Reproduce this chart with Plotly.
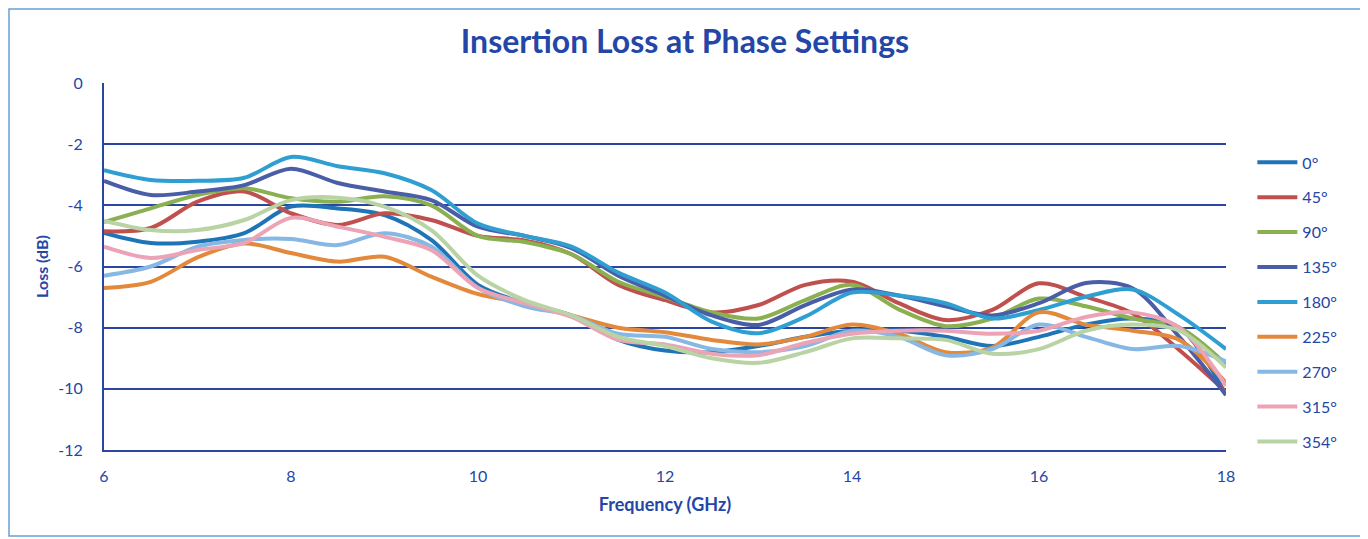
import plotly.graph_objects as go

freq = [6, 6.5, 7, 7.5, 8, 8.5, 9, 9.5, 10, 10.5, 11, 11.5, 12,
        12.5, 13, 13.5, 14, 14.5, 15, 15.5, 16, 16.5, 17, 17.5, 18]

loss_0 = [-4.9, -5.23, -5.19, -4.91, -4.04, -4.1, -4.32, -5.13, -6.6, -7.2, -7.6, -8.4, -8.75,
          -8.8, -8.6, -8.3, -8.1, -8.1, -8.3, -8.6, -8.3, -7.9, -7.7, -8.0, -10.2]
loss_45 = [-4.85, -4.74, -3.88, -3.55, -4.26, -4.64, -4.26, -4.48, -5.0, -5.15, -5.6, -6.6, -7.1,
           -7.5, -7.26, -6.6, -6.5, -7.2, -7.75, -7.42, -6.55, -6.99, -7.53, -8.73, -10.1]
loss_90 = [-4.55, -4.1, -3.66, -3.44, -3.77, -3.88, -3.7, -4.0, -5.0, -5.2, -5.6, -6.5, -7.0,
           -7.5, -7.7, -7.1, -6.6, -7.4, -7.95, -7.7, -7.05, -7.3, -7.7, -8.0, -9.2]
loss_135 = [-3.2, -3.66, -3.55, -3.34, -2.8, -3.27, -3.55, -3.83, -4.7, -5.0, -5.4, -6.3, -6.95,
            -7.6, -7.91, -7.26, -6.75, -6.95, -7.3, -7.6, -7.2, -6.54, -6.71, -8.3, -10.2]
loss_180 = [-2.85, -3.17, -3.2, -3.1, -2.42, -2.72, -2.95, -3.5, -4.6, -5.0, -5.35, -6.2, -6.85,
            -7.8, -8.18, -7.64, -6.85, -6.95, -7.2, -7.7, -7.42, -6.99, -6.75, -7.59, -8.7]
loss_225 = [-6.7, -6.5, -5.7, -5.25, -5.56, -5.84, -5.68, -6.33, -6.9, -7.2, -7.6, -8.0, -8.15,
            -8.4, -8.55, -8.3, -7.9, -8.2, -8.8, -8.65, -7.5, -7.9, -8.1, -8.4, -9.8]
loss_270 = [-6.3, -6.0, -5.35, -5.13, -5.1, -5.3, -4.91, -5.35, -6.7, -7.3, -7.6, -8.2, -8.3,
            -8.7, -8.8, -8.6, -8.1, -8.3, -8.9, -8.7, -7.9, -8.3, -8.7, -8.6, -9.1]
loss_315 = [-5.35, -5.72, -5.46, -5.23, -4.41, -4.7, -5.03, -5.46, -6.7, -7.2, -7.65, -8.4, -8.55,
            -8.85, -8.9, -8.5, -8.2, -8.1, -8.1, -8.2, -8.1, -7.65, -7.5, -8.0, -9.9]
loss_354 = [-4.5, -4.81, -4.81, -4.48, -3.83, -3.75, -4.04, -4.81, -6.3, -7.1, -7.6, -8.3, -8.6,
            -9.0, -9.15, -8.8, -8.35, -8.35, -8.4, -8.85, -8.7, -8.1, -7.9, -8.1, -9.3]

names = ["0°", "45°", "90°", "135°", "180°", "225°", "270°", "315°", "354°"]
series = [loss_0, loss_45, loss_90, loss_135, loss_180, loss_225, loss_270, loss_315, loss_354]
colors = ["#1f74b8", "#c0504d", "#8ab04f", "#4a5ea8", "#2f9fd2",
          "#e3893c", "#86b8e3", "#eba3b5", "#b9d3a4"]

y_ticks = [0, -2, -4, -6, -8, -10, -12]
y_tick_text = ["0", "-2", "-4", "-6", "-8", "-10", "-12"]
x_ticks = [6, 8, 10, 12, 14, 16, 18]

blue_text = "#2446a6"
grid_blue = "#2a46a0"
font_family = "Lato, 'Open Sans', sans-serif"

fig = go.Figure()
for i, (name, ys, col) in enumerate(zip(names, series, colors)):
    fig.add_trace(go.Scatter(
        x=freq, y=ys, name=name, mode="lines",
        line=dict(color=col, width=4, shape="spline", smoothing=0.9),
        legendgroup=f"g{i}",
    ))

L, T, PW, PH = 96, 75, 1122, 367
W, H = 1368, 539

fig.update_layout(
    width=W, height=H,
    paper_bgcolor="white", plot_bgcolor="white",
    margin=dict(l=L, r=W - L - PW, t=T, b=H - T - PH),
    font=dict(family=font_family, color=blue_text),
    title=dict(text="<b>Insertion Loss at Phase Settings</b>",
               x=677 / W, xanchor="center", y=1 - 34 / H, yanchor="middle",
               yref="container", xref="container",
               font=dict(size=32, color=blue_text, family=font_family)),
    legend=dict(x=1.0235, y=0.83, xanchor="left", yanchor="top",
                font=dict(size=16, color=blue_text, family=font_family),
                tracegroupgap=11.1, bgcolor="rgba(0,0,0,0)", itemwidth=40),
    xaxis=dict(range=[6, 18], tickvals=x_ticks, showgrid=False, zeroline=False,
               showline=True, linecolor=grid_blue, linewidth=2,
               tickfont=dict(size=16, color=blue_text), ticks="", ticklabelstandoff=11,
               title=dict(text="<b>Frequency (GHz)</b>", font=dict(size=18, color=blue_text),
                          standoff=14)),
    yaxis=dict(range=[-12, 0], tickvals=y_ticks, ticktext=y_tick_text,
               showgrid=True, gridcolor=grid_blue,
               gridwidth=2, zeroline=False, showline=True, linecolor=grid_blue, linewidth=2,
               tickfont=dict(size=16, color=blue_text), ticks="", ticklabelstandoff=16,
               title=dict(text="<b>Loss (dB)</b>", font=dict(size=16, color=blue_text),
                          standoff=6)),
    shapes=[dict(type="rect", xref="paper", yref="paper",
                 x0=(1 - L) / PW, x1=(1356 - L) / PW,
                 y0=(T + PH - 528) / PH, y1=(T + PH - 1) / PH,
                 line=dict(color="#6a9fd8", width=1.5), layer="below")],
)

fig.write_html("out.html")
